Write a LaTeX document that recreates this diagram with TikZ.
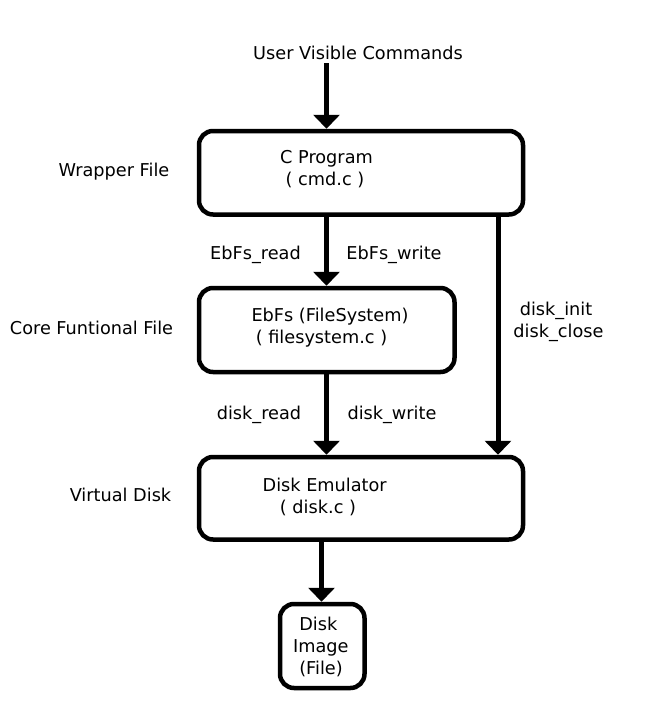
\documentclass[tikz,border=0pt]{standalone}
\usepackage{fontspec}
\setmainfont{DejaVu Sans}
\usetikzlibrary{arrows.meta}
\begin{document}
\begin{tikzpicture}[x=1pt,y=-1pt,
  every node/.style={font=\fontsize{17.7}{22}\selectfont},
  lbl/.style={inner sep=0pt, anchor=base},
  box/.style={draw, line width=4.5pt, rounded corners=14pt, inner sep=0pt},
  arr/.style={line width=5pt, -{Triangle[width=26pt,length=14pt]}}]
\useasboundingbox (0,0) rectangle (663,710);
% boxes
\node[box, minimum width=324pt, minimum height=83.5pt] (b1) at (361,172.75) {};
\node[box, minimum width=255.5pt, minimum height=84pt] (b2) at (326.75,330) {};
\node[box, minimum width=324pt, minimum height=82.5pt] (b3) at (361,498.25) {};
\node[box, minimum width=84.5pt, minimum height=84pt] (b4) at (322.25,646) {};
% texts
\node[lbl] (uvc) at (358,59) {User Visible Commands};
\node[lbl] (cp1) at (326.5,163.5) {C Program};
\node[lbl] (cp2) at (325,185.5) {( cmd.c )};
\node[lbl] (wf) at (114,176) {Wrapper File};
\node[lbl] (cff) at (91.5,334) {Core Funtional File};
\node[lbl] (er) at (255.5,259.5) {EbFs\_read};
\node[lbl] (ew) at (394,259.5) {EbFs\_write};
\node[lbl] (fs1) at (330,321.5) {EbFs (FileSystem)};
\node[lbl] (fs2) at (321.5,343.5) {( filesystem.c )};
\node[lbl] (di) at (556,315) {disk\_init};
\node[lbl] (dc) at (558.5,337) {disk\_close};
\node[lbl] (dr) at (259,419) {disk\_read};
\node[lbl] (dw) at (392,419) {disk\_write};
\node[lbl] (de1) at (324.7,491.5) {Disk Emulator};
\node[lbl] (de2) at (318,513.5) {( disk.c )};
\node[lbl] (vd) at (120.5,501.5) {Virtual Disk};
\node[lbl] (im1) at (318.3,630.7) {Disk};
\node[lbl] (im2) at (320.8,652.7) {Image};
\node[lbl] (im3) at (321,674.5) {(File)};
% connector x-positions
\coordinate (xa) at (326.5,0);
\coordinate (xb) at (498,0);
\coordinate (xc) at (321.5,0);
\coordinate (start) at (326.5,63);
% arrows
\draw[arr] (start) -- (b1.north -| xa);
\draw[arr] (b1.south -| xa) -- (b2.north -| xa);
\draw[arr] (b2.south -| xa) -- (b3.north -| xa);
\draw[arr] (b1.south -| xb) -- (b3.north -| xb);
\draw[arr] (b3.south -| xc) -- (b4.north -| xc);
\end{tikzpicture}
\end{document}
